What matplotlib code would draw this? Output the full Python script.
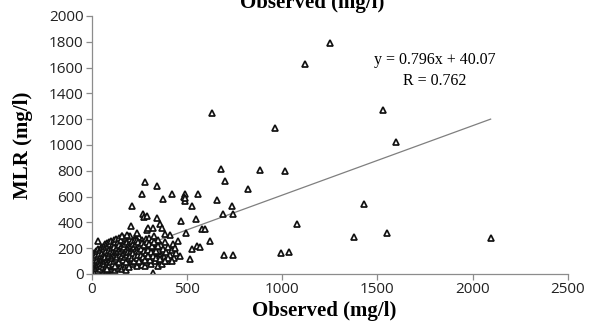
import numpy as np
import matplotlib
matplotlib.use("Agg")
import matplotlib.pyplot as plt

# outlying points (observed, MLR)
outlier_obs = [1250, 1120, 630, 1530, 960, 1600, 680, 700, 885, 1015, 821, 660,
               1432, 1380, 1553, 2095, 1080, 995, 1037, 697, 742, 737, 689, 742,
               558, 489, 489, 526, 484, 421, 374, 342, 279, 263, 211, 268, 274,
               342, 470, 547, 579, 597, 495, 621, 553, 568, 526, 516, 466, 442,
               400, 421, 358, 368, 321, 289, 411, 205, 200, 158, 32, 321, 79,
               184, 237, 295, 289, 384, 426, 453, 437, 358, 384, 295, 490]
outlier_mlr = [1790, 1630, 1250, 1270, 1130, 1020, 817, 723, 809, 794, 657, 575,
               545, 285, 315, 278, 390, 160, 170, 145, 145, 529, 467, 467,
               622, 622, 568, 529, 599, 622, 580, 680, 713, 618, 529, 467, 440,
               436, 410, 425, 350, 350, 319, 253, 220, 205, 194, 117, 136, 160,
               124, 101, 385, 358, 358, 340, 303, 373, 296, 296, 258, 8, 39,
               300, 315, 358, 451, 311, 233, 257, 202, 117, 101, 140, 590]

# dense cluster near the origin
cluster_obs = [2, 3, 4, 5, 6, 7, 8, 9, 10, 11, 12, 13, 14, 15, 16, 17, 18, 19, 20,
               21, 22, 23, 24, 25, 26, 27, 28, 29, 30, 31, 32, 33, 34, 35, 36, 37,
               38, 39, 40, 41, 42, 43, 44, 45, 46, 47, 48, 49, 50,
               52, 53, 55, 56, 57, 58, 60, 61, 62, 63, 65, 66, 67, 68, 70, 71, 72,
               73, 75, 76, 77, 78, 80, 81, 82, 84, 85, 86, 88, 89, 90, 91, 92, 94,
               95, 96, 98, 99, 100,
               102, 103, 105, 106, 108, 109, 110, 112, 113, 115, 116, 118, 119, 120,
               122, 123, 125, 126, 128, 130, 131, 133, 134, 136, 137, 139, 140, 142,
               143, 145, 146, 148, 149, 150,
               152, 153, 155, 156, 158, 160, 161, 163, 165, 166, 168, 170, 171, 173,
               175, 176, 178, 180, 181, 183, 185, 186, 188, 190, 191, 193, 195, 196,
               198, 200,
               202, 204, 205, 207, 209, 210, 212, 214, 216, 218, 220, 221, 223, 225,
               227, 229, 230, 232, 234, 236, 238, 240, 242, 244, 246, 248, 250,
               252, 254, 256, 258, 260, 262, 264, 266, 268, 270, 272, 274, 276, 278,
               280, 282, 284, 286, 288, 290, 292, 294, 296, 298, 300,
               303, 306, 309, 312, 315, 318, 321, 324, 327, 330, 334, 338, 342, 346,
               350, 354, 358, 362, 366, 370, 375, 380, 385, 390, 395, 400, 410, 420,
               430,
               5, 8, 12, 15, 18, 22, 25, 28, 33, 36, 40, 44, 48, 54, 59, 64, 69, 74,
               79, 83, 87, 93, 97, 104, 111, 117, 124, 132, 138, 144, 151, 159, 167,
               174, 182, 189, 197,
               1, 2, 3, 4, 5, 6, 7, 9, 10, 11, 13, 14, 16, 17, 19, 20, 21, 23, 24,
               26, 27, 29, 30, 31, 33, 34, 35, 37, 38, 40, 41, 42, 44, 45, 46, 48,
               49, 51, 53, 54, 56, 57, 59, 60, 62, 63, 65, 66, 68, 69, 71, 72, 74,
               75, 77, 78, 80, 81, 83, 84, 86, 87, 89, 90, 92, 93, 95, 96, 98, 99,
               101, 103, 104, 106, 107, 109, 111, 112, 114, 116, 117, 119, 120, 122,
               124, 126, 127, 129, 131, 133, 135, 137, 139, 141, 143, 145, 147, 149,
               151, 153, 155, 157, 159, 161, 163, 165, 167, 169, 171, 173, 175, 177,
               179, 181, 183, 185, 187, 189, 191, 193, 195, 197, 199, 201, 203, 206,
               208, 211, 213, 215, 217, 219, 222, 224, 226, 228, 231, 233, 235, 237,
               239, 241, 243, 245, 247, 249, 253, 257, 261, 265, 269, 273, 277, 281,
               285, 289, 293, 297, 301, 305, 310, 316, 322, 328, 335, 340, 348, 356]
cluster_mlr = [5, 20, 40, 10, 60, 30, 80, 15, 45, 100, 25, 70, 5, 120, 35, 55, 90, 10, 140,
               65, 30, 110, 50, 75, 20, 130, 95, 40, 60, 150, 85, 15, 105, 45, 70, 125,
               30, 160, 90, 55, 115, 20, 75, 135, 100, 40, 170, 60, 85,
               120, 30, 150, 70, 100, 45, 180, 130, 60, 90, 110, 25, 160, 80, 140, 50, 190,
               100, 120, 70, 35, 165, 95, 140, 55, 200, 115, 80, 150, 40, 175, 105, 65, 130,
               210, 90, 155, 50, 120,
               180, 75, 140, 100, 200, 60, 160, 120, 90, 220, 140, 70, 185, 105,
               150, 45, 200, 125, 85, 170, 230, 110, 140, 60, 190, 95, 155, 210,
               120, 75, 175, 135, 240, 100,
               160, 195, 80, 130, 215, 110, 170, 250, 140, 90, 190, 120, 225, 60,
               155, 200, 100, 175, 260, 135, 210, 85, 160, 230, 115, 185, 145, 270,
               200, 95,
               165, 230, 130, 190, 250, 110, 175, 210, 80, 150, 240, 195, 125, 280,
               170, 95, 215, 145, 260, 185, 60, 230, 160, 110, 200, 285, 140,
               175, 240, 90, 210, 130, 265, 185, 70, 225, 155, 200, 110, 250, 170,
               60, 215, 135, 270, 190, 95, 240, 160, 120, 205, 280,
               150, 230, 80, 190, 260, 120, 210, 170, 290, 100, 240, 140, 200, 60,
               260, 175, 110, 225, 150, 80, 195, 130, 250, 170, 100, 210, 150, 185,
               120,
               2, 25, 8, 50, 30, 12, 60, 40, 18, 80, 10, 55, 30, 85, 20, 65, 35, 95,
               25, 60, 45, 30, 70, 40, 85, 55, 30, 65, 45, 90, 60, 40, 75, 50, 30,
               70, 55,
               50, 90, 130, 70, 110, 0, 150, 55, 120, 85, 40, 160, 105, 10, 130, 75,
               180, 45, 145, 95, 60, 175, 110, 25, 140, 70, 195, 100, 50, 155, 125,
               80, 185, 35, 140, 105, 200, 65, 165, 115, 210, 85, 140, 55, 190, 120,
               220, 75, 150, 100, 230, 130, 60, 175, 205, 110, 240, 80, 160, 130,
               215, 95, 250, 140, 185, 70, 160, 110, 230, 175,
               90, 255, 150, 200, 120, 80, 235, 170, 135, 265, 100, 210, 150, 65,
               245, 185, 115, 270, 160, 200, 130, 250, 175, 90, 225, 280, 150, 195,
               120, 260, 175, 215, 140, 290, 190, 110, 240, 160, 205, 275, 130, 230,
               180, 95, 250, 150, 195, 290, 170, 120, 235, 205, 160, 270, 140, 215,
               180, 255, 120, 195, 230, 165, 100, 210, 260, 140, 190, 235, 120, 175,
               265, 205, 145, 250, 180, 100, 220, 150, 195, 240, 130, 180, 225, 110,
               160, 250, 140, 185, 230, 110, 170, 215, 140, 250, 120, 180, 220, 140]

# fitted line as drawn in the chart
line_obs = [0, 2095]
line_mlr = [72, 1200]

x_ticks = [0, 500, 1000, 1500, 2000, 2500]
y_ticks = list(range(0, 2001, 200))

fig = plt.figure(figsize=(5.92, 3.32), dpi=100)
ax = fig.add_axes([0.155, 0.175, 0.804, 0.777])

ax.plot(line_obs, line_mlr, color="#7f7f7f", lw=0.9, zorder=1)
ax.plot(cluster_obs + outlier_obs, cluster_mlr + outlier_mlr, ls="none",
        marker="^", ms=5, mfc="white", mec="#111111", mew=1.25, zorder=2)

ax.set_xlim(0, 2500)
ax.set_ylim(0, 2000)
ax.set_xticks(x_ticks)
ax.set_yticks(y_ticks)
for s in ["top", "right"]:
    ax.spines[s].set_visible(False)
for s in ["left", "bottom"]:
    ax.spines[s].set_color("#8c8c8c")
    ax.spines[s].set_linewidth(0.9)
ax.tick_params(direction="out", length=4, width=0.9, color="#8c8c8c",
               labelsize=11, pad=2)
for lab in ax.get_xticklabels() + ax.get_yticklabels():
    lab.set_family("Open Sans")
    lab.set_color("#222222")

ax.set_xlabel("Observed (mg/l)", family="Liberation Serif", fontweight="bold",
              fontsize=15, va="center")
ax.set_ylabel("MLR (mg/l)", family="Liberation Serif", fontweight="bold",
              fontsize=15, va="center")
ax.xaxis.set_label_coords(0.488, -0.145)
ax.yaxis.set_label_coords(-0.145, 0.5)

ax.text(1800, 1580, "y = 0.796x + 40.07\nR = 0.762", family="Liberation Serif",
        fontsize=11.5, ha="center", va="center", linespacing=1.4)

# clipped title left over from the chart above
fig.text(0.527, 0.992, "Observed (mg/l)", family="Liberation Serif",
         fontweight="bold", fontsize=15, ha="center", va="center")

fig.savefig("out.png", dpi=100)
